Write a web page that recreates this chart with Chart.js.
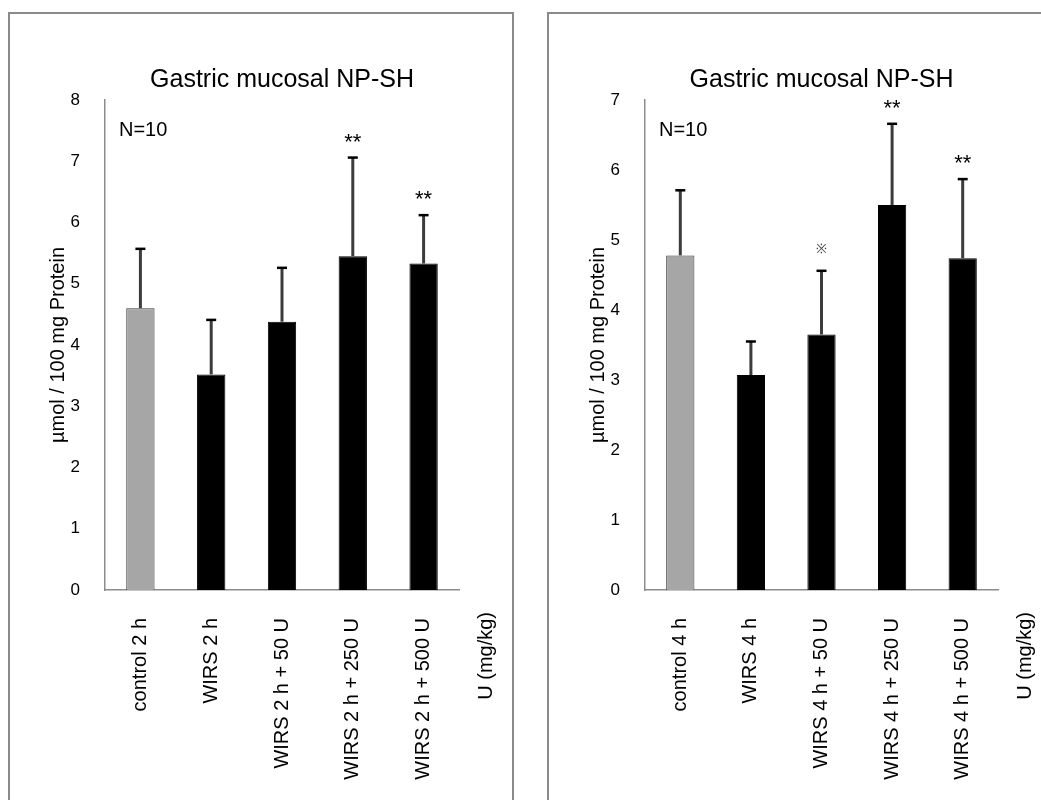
<!DOCTYPE html>
<html>
<head>
<meta charset="utf-8">
<script src="https://cdn.jsdelivr.net/npm/chart.js@4/dist/chart.umd.min.js"></script>
<style>
    body { margin: 0; background: #fff; width: 1041px; height: 800px; overflow: hidden; position: relative; }
    .panel { position: absolute; top: 12px; height: 800px; border: 2px solid #8a8a8a; background: #fff; box-sizing: border-box; }
    canvas { position: absolute; }
</style>
</head>
<body>
<div class="panel" style="left: 8px; width: 506px;"></div>
<div class="panel" style="left: 547px; width: 500px;"></div>
<canvas id="chart-2h" style="left: 10px; top: 14px;"></canvas>
<canvas id="chart-4h" style="left: 550px; top: 14px;"></canvas>
<script>
const chartTitle = 'Gastric mucosal NP-SH';
const yTitle = 'µmol / 100 mg Protein';
const doseLabel = 'U (mg/kg)';
const nLabel = 'N=10';

const labels2h = ['control 2 h', 'WIRS 2 h', 'WIRS 2 h + 50 U', 'WIRS 2 h + 250 U', 'WIRS 2 h + 500 U'];
const means2h = [4.60, 3.52, 4.38, 5.45, 5.33];
const sd2h = [0.97, 0.89, 0.88, 1.61, 0.79];
const marks2h = ['', '', '', '**', '**'];

const labels4h = ['control 4 h', 'WIRS 4 h', 'WIRS 4 h + 50 U', 'WIRS 4 h + 250 U', 'WIRS 4 h + 500 U'];
const means4h = [4.78, 3.07, 3.65, 5.50, 4.74];
const sd4h = [0.93, 0.48, 0.91, 1.16, 1.13];
const marks4h = ['', '', '※', '**', '**'];

const barColors = ['#a6a6a6', '#000000', '#000000', '#000000', '#000000'];
const edgeColors = ['#3a3a3a', '#000000', '#000000', '#000000', '#000000'];
const fontFamily = "'Liberation Sans', Arial, sans-serif";

// title over the plot area, upper error bars, significance marks, N and dose note
const extras = {
    id: 'extras',
    afterDatasetsDraw(chart, args, opts) {
        const ctx = chart.ctx;
        const y = chart.scales.y;
        const meta = chart.getDatasetMeta(0);
        const area = chart.chartArea;

        ctx.save();
        ctx.fillStyle = '#000';
        ctx.font = '25px ' + fontFamily;
        ctx.textAlign = 'center';
        ctx.textBaseline = 'middle';
        ctx.fillText(chartTitle, (area.left + area.right) / 2, area.top - 20);

        for (let i = 0; i < opts.means.length; i++) {
            let x = meta.data[i].x;
            let top = y.getPixelForValue(opts.means[i]);
            let err = y.getPixelForValue(opts.means[i] + opts.sd[i]);

            ctx.strokeStyle = '#3c3c3c';
            ctx.lineWidth = 3;
            ctx.beginPath();
            ctx.moveTo(x, top);
            ctx.lineTo(x, err);
            ctx.stroke();

            ctx.strokeStyle = '#000';
            ctx.lineWidth = 2.5;
            ctx.beginPath();
            ctx.moveTo(x - 5, err);
            ctx.lineTo(x + 5, err);
            ctx.stroke();

            if (opts.marks[i]) {
                let star = opts.marks[i] === '**';
                ctx.fillStyle = star ? '#000' : '#444';
                ctx.font = (star ? '22px ' : '13px ') + fontFamily;
                ctx.textAlign = 'center';
                ctx.textBaseline = 'middle';
                ctx.fillText(opts.marks[i], x, err - (star ? 15 : 21));
            }
        }

        ctx.fillStyle = '#000';
        ctx.font = '20px ' + fontFamily;
        ctx.textAlign = 'left';
        ctx.textBaseline = 'middle';
        ctx.fillText(nLabel, area.left + 14, area.top + 30);

        ctx.translate(area.right + 27, area.bottom + 22);
        ctx.rotate(-Math.PI / 2);
        ctx.font = '20px ' + fontFamily;
        ctx.textAlign = 'right';
        ctx.fillText(doseLabel, 0, 0);
        ctx.restore();
    }
};

function makeChart(id, width, padRight, labels, means, sd, marks, yMax) {
    let canvas = document.getElementById(id);
    canvas.width = width;
    canvas.height = 786;

    return new Chart(canvas, {
        type: 'bar',
        data: {
            labels: labels,
            datasets: [{
                data: means,
                backgroundColor: barColors,
                borderColor: edgeColors,
                borderWidth: 1,
                barPercentage: 0.4,
                categoryPercentage: 1
            }]
        },
        options: {
            responsive: false,
            animation: false,
            layout: { padding: { left: 0, right: padRight, top: 86, bottom: 0 } },
            plugins: {
                legend: { display: false },
                tooltip: { enabled: false },
                title: { display: false },
                extras: { means: means, sd: sd, marks: marks }
            },
            scales: {
                x: {
                    grid: { display: false },
                    border: { display: true, color: '#8c8c8c', width: 1.5 },
                    ticks: {
                        autoSkip: false,
                        minRotation: 90,
                        maxRotation: 90,
                        padding: 20,
                        color: '#000',
                        font: { family: fontFamily, size: 20 }
                    },
                    afterFit: function (scale) { scale.height = 210; }
                },
                y: {
                    min: 0,
                    max: yMax,
                    grid: { display: false },
                    border: { display: true, color: '#8c8c8c', width: 1.5 },
                    ticks: {
                        stepSize: 1,
                        padding: 17,
                        color: '#000',
                        font: { family: fontFamily, size: 17 }
                    },
                    title: {
                        display: true,
                        text: yTitle,
                        color: '#000',
                        font: { family: fontFamily, size: 20 },
                        padding: { top: 36, bottom: 0 }
                    },
                    afterFit: function (scale) { scale.width = 95; }
                }
            }
        },
        plugins: [extras]
    });
}

makeChart('chart-2h', 500, 51, labels2h, means2h, sd2h, marks2h, 8);
makeChart('chart-4h', 491, 43, labels4h, means4h, sd4h, marks4h, 7);
</script>
</body>
</html>
